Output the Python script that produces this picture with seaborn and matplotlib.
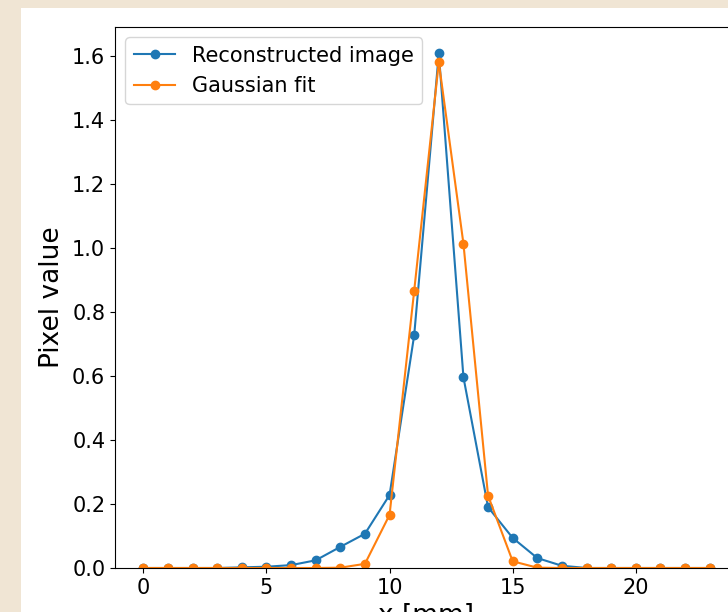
import numpy as np
import pandas as pd
import matplotlib
matplotlib.use('Agg')
import matplotlib.pyplot as plt
import seaborn as sns
from matplotlib.patches import Rectangle

# pixel positions along the line profile (mm)
x_mm = list(range(24))

recon = [0.0, 0.0, 0.0, 0.0, 0.002, 0.004, 0.009, 0.024, 0.066, 0.107,
         0.228, 0.727, 1.608, 0.596, 0.190, 0.094, 0.031, 0.007, 0.0, 0.0,
         0.0, 0.0, 0.0, 0.0]
gauss = [0.0, 0.0, 0.0, 0.0, 0.0, 0.0, 0.0, 0.0, 0.001, 0.013,
         0.166, 0.866, 1.580, 1.013, 0.226, 0.021, 0.001, 0.0, 0.0, 0.0,
         0.0, 0.0, 0.0, 0.0]

series_names = ['Reconstructed image', 'Gaussian fit']
colors = ['#1f77b4', '#ff7f0e']

fig = plt.figure(figsize=(7.28, 6.12), dpi=100, facecolor='#f0e5d4')
# white page area of the screenshot, kept behind the axes
fig.patches.append(Rectangle((21 / 728, 0), 1, 1 - 8 / 612, transform=fig.transFigure,
                             facecolor='white', edgecolor='none', zorder=-10))

ax = fig.add_axes([115 / 728, 44 / 612, 623 / 728, 541 / 612])
ax.set_facecolor('white')

for name, vals, col in zip(series_names, [recon, gauss], colors):
    sns.lineplot(x=x_mm, y=vals, ax=ax, color=col, label=name, marker='o',
                 markersize=6, markeredgecolor=col, markeredgewidth=1,
                 linewidth=1.5)

ax.set_xlim(-1.15, 24.15)
ax.set_ylim(0, 1.69)
ax.set_xticks([0, 5, 10, 15, 20])
ax.set_yticks(np.arange(0, 1.61, 0.2))
ax.set_yticklabels([f'{v:.1f}' for v in np.arange(0, 1.61, 0.2)])
ax.tick_params(labelsize=15)
ax.set_xlabel('x [mm]', fontsize=19)
ax.set_ylabel('Pixel value', fontsize=19, labelpad=5)
ax.legend(loc='upper left', fontsize=15)

fig.savefig('out.png', dpi=100)
